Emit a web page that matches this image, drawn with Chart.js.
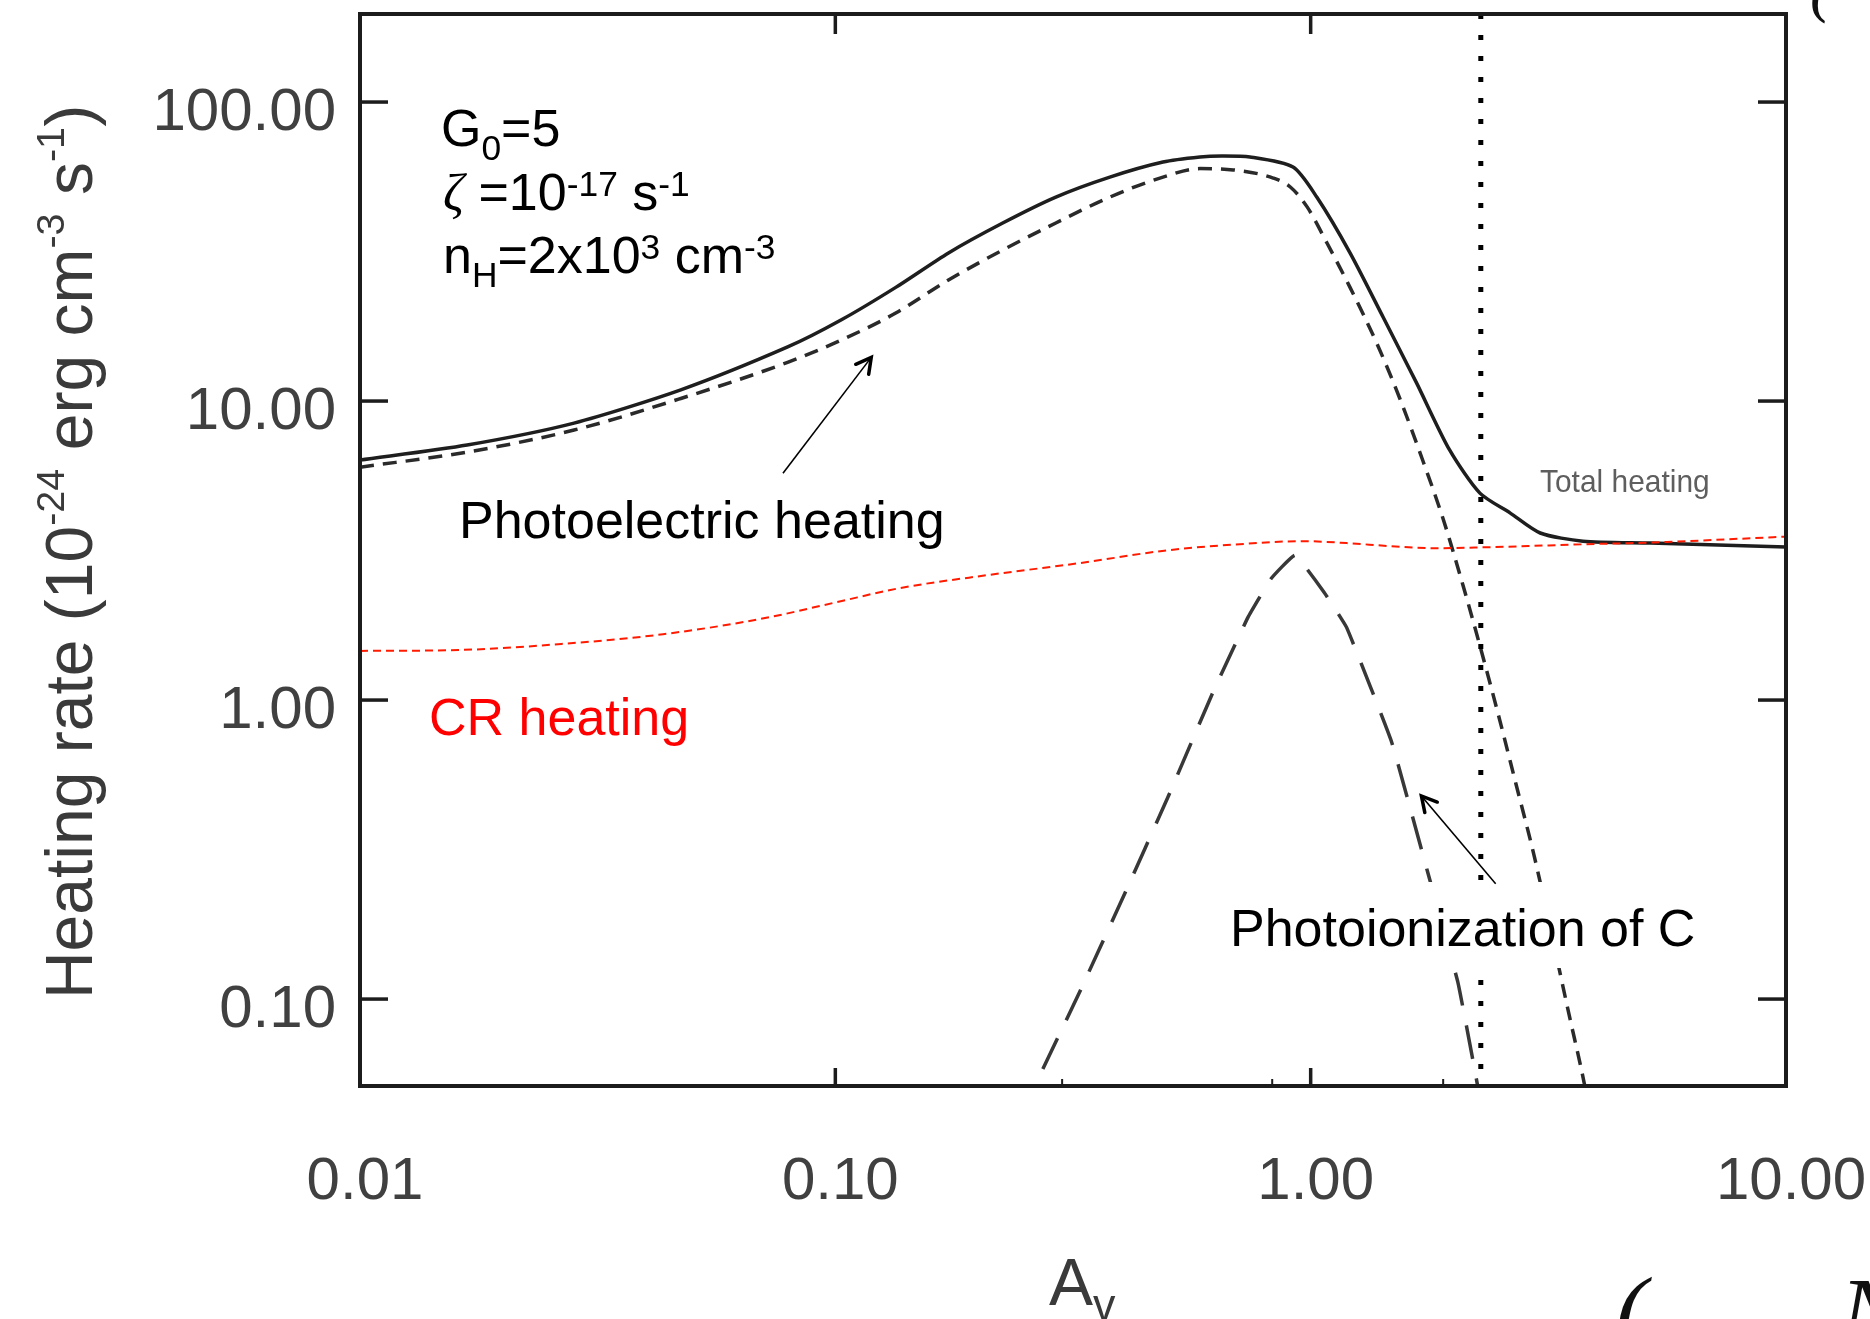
<!DOCTYPE html>
<html>
<head>
<meta charset="utf-8">
<title>Heating rate vs A_v</title>
<script src="https://cdn.jsdelivr.net/npm/chart.js@4.4.0/dist/chart.umd.min.js"></script>
<style>
  html, body { margin: 0; padding: 0; background: #fff; }
  #wrap { width: 1870px; height: 1319px; position: relative; }
</style>
</head>
<body>
<div id="wrap"><canvas id="heatChart" width="1870" height="1319"></canvas></div>
<script>
// axis ticks
const xTicks = [0.01, 0.1, 1, 10];
const yTicks = [0.1, 1, 10, 100];
const xMinorTicks = [0.3, 0.83, 1.9];

// total heating (solid)
const totalAv = [0.01, 0.0168, 0.0282, 0.0473, 0.0796, 0.103, 0.134, 0.173, 0.225, 0.291, 0.378, 0.489, 0.585, 0.65, 0.745, 0.918, 1.03, 1.21, 1.42, 1.67, 1.96, 2.27, 2.63, 3.04, 3.74, 5.18, 10];
const totalRate = [6.35, 7.13, 8.44, 10.9, 15.2, 18.7, 24.0, 31.3, 39.4, 48.1, 56.1, 63.0, 65.5, 66.0, 65.5, 60.6, 48.1, 31.3, 19.1, 11.5, 6.86, 4.92, 4.22, 3.62, 3.40, 3.35, 3.25];

// photoelectric heating (short dashes)
const peAv = [0.01, 0.0168, 0.0282, 0.0473, 0.0796, 0.103, 0.134, 0.173, 0.225, 0.291, 0.378, 0.489, 0.585, 0.687, 0.834, 0.906, 0.983, 1.083, 1.21, 1.38, 1.54, 1.72, 1.90, 2.09, 2.27, 2.48, 2.70, 2.95, 3.28, 3.51, 3.71, 3.87];
const peRate = [6.01, 6.75, 8.0, 10.2, 13.5, 16.0, 19.7, 25.4, 32.0, 39.4, 48.1, 56.1, 59.9, 59.3, 55.7, 52.0, 44.6, 33.7, 24.0, 15.5, 10.2, 6.35, 4.03, 2.43, 1.52, 0.898, 0.528, 0.303, 0.1416, 0.0863, 0.0583, 0.0419];

// photoionization of C (long dashes)
const ciAv = [0.245, 0.267, 0.326, 0.403, 0.501, 0.621, 0.738, 0.826, 0.927, 1.066, 1.19, 1.48, 1.76, 2.04, 2.21, 2.31];
const ciRate = [0.04, 0.054, 0.105, 0.219, 0.474, 1.05, 1.89, 2.55, 3.05, 2.3, 1.75, 0.724, 0.268, 0.114, 0.0588, 0.04];

// CR heating (red)
const crAv = [0.01, 0.0161, 0.0265, 0.0434, 0.0711, 0.1, 0.137, 0.21, 0.326, 0.501, 0.771, 0.959, 1.19, 1.48, 1.84, 2.27, 4.06, 5.10, 10];
const crRate = [1.46, 1.47, 1.54, 1.66, 1.88, 2.12, 2.37, 2.62, 2.87, 3.17, 3.35, 3.40, 3.35, 3.27, 3.22, 3.24, 3.33, 3.36, 3.52];

// vertical dotted marker
const dividerAv = 2.28;

const xMin = 0.01, xMax = 10;
const yMin = 0.0512, yMax = 197;

const fam = '"Liberation Sans", Arial, Helvetica, sans-serif';

function pts(xs, ys) {
    return xs.map((v, i) => ({ x: v, y: ys[i] }));
}

// draws text made of normal / sup / sub / italic parts, returns width
function richText(ctx, parts, x, y, size, opts) {
    const o = Object.assign({ supScale: 0.68, supRaise: 0.26, subDrop: 0.26, dry: false }, opts || {});
    let cx = x;
    parts.forEach(([t, k]) => {
        const small = (k === 'sup' || k === 'sub');
        const s = small ? size * o.supScale : size;
        const dy = k === 'sup' ? -size * o.supRaise : (k === 'sub' ? size * o.subDrop : 0);
        ctx.font = k === 'it' ? 'italic ' + s + 'px "Liberation Serif", "DejaVu Serif", serif' : s + 'px ' + fam;
        if (!o.dry) ctx.fillText(t, cx, y + dy);
        cx += ctx.measureText(t).width;
    });
    return cx - x;
}

function line(ctx, x0, y0, x1, y1) {
    ctx.beginPath();
    ctx.moveTo(x0, y0);
    ctx.lineTo(x1, y1);
    ctx.stroke();
}

function arrow(ctx, x0, y0, x1, y1) {
    ctx.strokeStyle = '#000';
    ctx.lineWidth = 1.6;
    line(ctx, x0, y0, x1, y1);
    const ang = Math.atan2(y1 - y0, x1 - x0);
    ctx.lineWidth = 3.5;
    ctx.lineCap = 'round';
    ctx.beginPath();
    ctx.moveTo(x1 - 17 * Math.cos(ang - 0.5), y1 - 17 * Math.sin(ang - 0.5));
    ctx.lineTo(x1, y1);
    ctx.lineTo(x1 - 17 * Math.cos(ang + 0.5), y1 - 17 * Math.sin(ang + 0.5));
    ctx.stroke();
    ctx.lineCap = 'butt';
}

const overlay = {
    id: 'overlay',
    afterDraw(chart) {
        const { ctx, chartArea: a, scales: { x, y } } = chart;
        ctx.save();

        // white label box over the curves
        ctx.fillStyle = '#fff';
        ctx.fillRect(1222, 882, 490, 86);

        // frame
        ctx.strokeStyle = '#1c1c1c';
        ctx.lineWidth = 4;
        ctx.strokeRect(a.left, a.top, a.right - a.left, a.bottom - a.top);

        // inward ticks
        ctx.lineWidth = 3.5;
        yTicks.forEach(v => {
            const py = y.getPixelForValue(v);
            line(ctx, a.left, py, a.left + 28, py);
            line(ctx, a.right - 28, py, a.right, py);
        });
        xTicks.forEach(v => {
            const px = x.getPixelForValue(v);
            if (px <= a.left + 2 || px >= a.right - 2) return;
            line(ctx, px, a.bottom, px, a.bottom - 18);
            line(ctx, px, a.top, px, a.top + 20);
        });
        ctx.lineWidth = 2;
        xMinorTicks.forEach(v => {
            const px = x.getPixelForValue(v);
            line(ctx, px, a.bottom, px, a.bottom - 7);
        });

        // y axis title (rotated)
        ctx.fillStyle = '#3a3a3a';
        ctx.textBaseline = 'alphabetic';
        ctx.textAlign = 'left';
        const yTitle = [['Heating rate (10', 'n'], ['-24', 'sup'], [' erg cm', 'n'], ['-3', 'sup'], [' s', 'n'], ['-1', 'sup'], [')', 'n']];
        const tOpts = { supScale: 0.6, supRaise: 0.42 };
        const tw = richText(ctx, yTitle, 0, 0, 66, Object.assign({ dry: true }, tOpts));
        ctx.save();
        ctx.translate(92, 552);
        ctx.rotate(-Math.PI / 2);
        richText(ctx, yTitle, -tw / 2, 0, 66, tOpts);
        ctx.restore();

        // x axis title
        richText(ctx, [['A', 'n'], ['v', 'sub']], 1049, 1305, 66, { subDrop: 0.23 });

        // parameters
        ctx.fillStyle = '#000';
        richText(ctx, [['G', 'n'], ['0', 'sub'], ['=5', 'n']], 441, 146, 52);
        richText(ctx, [['\u03B6', 'it'], [' =10', 'n'], ['-17', 'sup'], [' s', 'n'], ['-1', 'sup']], 443, 210, 52);
        richText(ctx, [['n', 'n'], ['H', 'sub'], ['=2x10', 'n'], ['3', 'sup'], [' cm', 'n'], ['-3', 'sup']], 443, 273, 52);

        // curve labels
        ctx.font = '52px ' + fam;
        ctx.fillText('Photoelectric heating', 459, 538);
        ctx.fillText('Photoionization of C', 1230, 946);
        ctx.fillStyle = '#ff0000';
        ctx.fillText('CR heating', 429, 735);

        ctx.save();
        ctx.fillStyle = '#5e5e5e';
        ctx.font = '32px ' + fam;
        ctx.translate(1540, 492);
        ctx.scale(0.935, 1);
        ctx.fillText('Total heating', 0, 0);
        ctx.restore();

        // arrows, anchored in data space
        arrow(ctx, x.getPixelForValue(0.0776), y.getPixelForValue(5.74), x.getPixelForValue(0.119), y.getPixelForValue(14.0));
        arrow(ctx, x.getPixelForValue(2.45), y.getPixelForValue(0.243), x.getPixelForValue(1.71), y.getPixelForValue(0.478));

        // leftover slide fragments
        ctx.fillStyle = '#111';
        ctx.font = 'italic 96px "Liberation Serif", serif';
        ctx.fillText('(', 1615, 1343);
        ctx.fillText('N', 1840, 1344);
        ctx.font = 'italic 64px "Liberation Serif", serif';
        ctx.fillText('(', 1810, 10);

        ctx.restore();
    }
};

const tickFont = { family: fam, size: 60 };

const heatChart = new Chart(document.getElementById('heatChart').getContext('2d'), {
    type: 'line',
    data: {
        datasets: [
            {
                label: 'CR heating',
                data: pts(crAv, crRate),
                borderColor: '#ff1a00',
                borderWidth: 2,
                borderDash: [8, 5],
                pointRadius: 0,
                cubicInterpolationMode: 'monotone'
            },
            {
                label: 'Av marker',
                data: [{ x: dividerAv, y: yMax }, { x: dividerAv, y: yMin }],
                borderColor: '#000',
                borderWidth: 5,
                borderDash: [5, 16],
                pointRadius: 0
            },
            {
                label: 'Total heating',
                data: pts(totalAv, totalRate),
                borderColor: '#1e1e1e',
                borderWidth: 3.5,
                pointRadius: 0,
                tension: 0.25
            },
            {
                label: 'Photoelectric heating',
                data: pts(peAv, peRate),
                borderColor: '#2a2a2a',
                borderWidth: 3.5,
                borderDash: [14, 9],
                pointRadius: 0,
                cubicInterpolationMode: 'monotone'
            },
            {
                label: 'Photoionization of C',
                data: pts(ciAv, ciRate),
                borderColor: '#383838',
                borderWidth: 3.5,
                borderDash: [34, 20],
                pointRadius: 0,
                tension: 0.1
            }
        ]
    },
    options: {
        responsive: false,
        animation: false,
        events: [],
        layout: { padding: { top: 14, right: 84, left: 0, bottom: 0 } },
        plugins: {
            legend: { display: false },
            tooltip: { enabled: false }
        },
        scales: {
            x: {
                type: 'logarithmic',
                min: xMin,
                max: xMax,
                bounds: 'data',
                grid: { display: false, drawTicks: false },
                border: { display: false },
                afterBuildTicks: s => { s.ticks = xTicks.map(v => ({ value: v })); },
                afterFit: s => { s.height = 233; s.paddingLeft = 0; s.paddingRight = 0; },
                ticks: {
                    callback: v => Number(v).toFixed(2),
                    font: tickFont,
                    color: '#404040',
                    padding: 60,
                    labelOffset: 5,
                    maxRotation: 0,
                    minRotation: 0,
                    autoSkip: false
                }
            },
            y: {
                type: 'logarithmic',
                min: yMin,
                max: yMax,
                bounds: 'data',
                grid: { display: false, drawTicks: false },
                border: { display: false },
                afterBuildTicks: s => { s.ticks = yTicks.map(v => ({ value: v })); },
                afterFit: s => { s.width = 360; s.paddingTop = 0; s.paddingBottom = 0; },
                ticks: {
                    callback: v => Number(v).toFixed(2),
                    font: tickFont,
                    color: '#404040',
                    padding: 24,
                    labelOffset: 11,
                    autoSkip: false
                }
            }
        }
    },
    plugins: [overlay]
});
</script>
</body>
</html>
